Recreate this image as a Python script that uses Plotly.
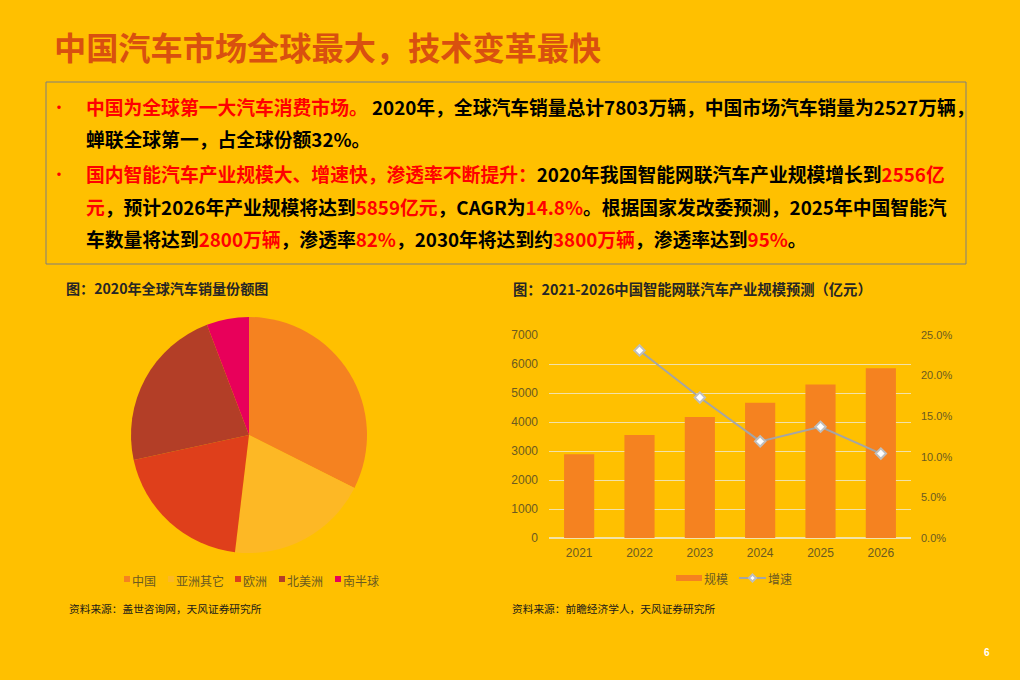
"""China auto market slide: share pie and smart-car market size combo chart."""
from plotly import graph_objects as go

WIDTH = 1020
HEIGHT = 680
BG = "#FFC000"
RED = "#FF0000"
GREY_TEXT = "#6B5A20"
LINE_GREY = "#A5A5A5"
MARKER_GREY = "#BEBEBE"
BAR_ORANGE = "#F58220"
CJK = "Noto Sans CJK SC"
SANS = "Liberation Sans, Noto Sans CJK SC"

TITLE = "中国汽车市场全球最大，技术变革最快"
PIE_TITLE = "图：2020年全球汽车销量份额图"
BAR_TITLE = "图：2021-2026中国智能网联汽车产业规模预测（亿元）"
PIE_SOURCE = "资料来源：盖世咨询网，天风证券研究所"
BAR_SOURCE = "资料来源：前瞻经济学人，天风证券研究所"

regions = ["中国", "亚洲其它", "欧洲", "北美洲", "南半球"]
region_share = [32.4, 19.5, 19.7, 22.6, 5.8]
region_colors = ["#F58220", "#FDB825", "#DF3F1B", "#B33E27", "#E8005A"]
region_legend_x = [124, 168, 235, 279, 335]

years = ["2021", "2022", "2023", "2024", "2025", "2026"]
market_size = [2890, 3550, 4170, 4660, 5290, 5850]
growth = [None, 0.231, 0.173, 0.119, 0.137, 0.104]

# (text, is_red) runs for each line of the text box
line_1 = [("中国为全球第一大汽车消费市场。", True),
          (" 2020年，全球汽车销量总计7803万辆，中国市场汽车销量为2527万辆，", False)]
line_2 = [("蝉联全球第一，占全球份额32%。", False)]
line_3 = [("国内智能汽车产业规模大、增速快，渗透率不断提升：", True),
          ("2020年我国智能网联汽车产业规模增长到", False), ("2556亿", True)]
line_4 = [("元", True), ("，预计2026年产业规模将达到", False), ("5859亿元", True),
          ("，CAGR为", False), ("14.8%", True), ("。根据国家发改委预测，2025年中国智能汽", False)]
line_5 = [("车数量将达到", False), ("2800万辆", True), ("，渗透率", False), ("82%", True),
          ("，2030年将达到约", False), ("3800万辆", True), ("，渗透率达到", False),
          ("95%", True), ("。", False)]


def px(x):
    return x / WIDTH


def py(y):
    return 1 - y / HEIGHT


def rich(runs):
    parts = []
    for text, is_red in runs:
        color = RED if is_red else "#000000"
        parts.append(f'<span style="color:{color}">{text}</span>')
    return "<b>" + "".join(parts) + "</b>"


def label(fig, x, y, text, size, color="#000000", family=CJK):
    # annotations carry a couple of pixels of padding on the left
    fig.add_annotation(
        x=px(x - 2), y=py(y), xref="paper", yref="paper", text=text,
        xanchor="left", yanchor="middle", showarrow=False,
        font=dict(size=size, color=color, family=family),
    )


def box(fig, x0, x1, y0, y1, color):
    fig.add_shape(
        type="rect", xref="paper", yref="paper",
        x0=px(x0), x1=px(x1), y0=py(y1), y1=py(y0),
        fillcolor=color, line=dict(width=0),
    )


fig = go.Figure()

fig.add_trace(go.Pie(
    labels=regions, values=region_share, sort=False, direction="clockwise", rotation=0,
    marker=dict(colors=region_colors, line=dict(width=0)), textinfo="none",
    hoverinfo="label+percent",
    domain=dict(x=[px(131), px(367)], y=[py(553), py(317)]),
    showlegend=False,
))
fig.add_trace(go.Bar(
    x=years, y=market_size, name="规模",
    marker=dict(color=BAR_ORANGE, line=dict(width=0)), width=0.5,
    showlegend=False,
))
fig.add_trace(go.Scatter(
    x=years, y=growth, name="增速", yaxis="y2", mode="lines+markers",
    line=dict(color=LINE_GREY, width=2),
    marker=dict(symbol="diamond", size=8, color="#FFFFFF", line=dict(color=MARKER_GREY, width=2)),
    showlegend=False,
))

fig.update_layout(
    width=WIDTH, height=HEIGHT, autosize=False,
    margin=dict(l=0, r=0, t=0, b=0, autoexpand=False),
    paper_bgcolor=BG, plot_bgcolor=BG,
    font=dict(family=SANS, size=12, color=GREY_TEXT),
    bargap=0.5,
    xaxis=dict(domain=[px(549), px(911)], showgrid=False, showline=False, ticks="",
               tickfont=dict(size=12, color=GREY_TEXT), type="category", ticklabelstandoff=6),
    yaxis=dict(range=[0, 7000], dtick=1000, gridcolor="#F2E2A8", gridwidth=1.2, zeroline=True,
               zerolinecolor="#F2E2A8", ticks="", tickfont=dict(size=12, color=GREY_TEXT),
               domain=[py(538), py(335)], ticklabelstandoff=10),
    yaxis2=dict(range=[0, 0.25], dtick=0.05, tickformat=".1%", overlaying="y", side="right",
                showgrid=False, zeroline=False, ticks="", tickfont=dict(size=11, color=GREY_TEXT),
                ticklabelstandoff=9),
)

fig.add_shape(
    type="rect", xref="paper", yref="paper",
    x0=px(46), x1=px(966), y0=py(264), y1=py(82),
    line=dict(color="#7F7F7F", width=1), fillcolor="rgba(0,0,0,0)",
)

label(fig, 54, 46, f"<b>{TITLE}</b>", 32.2, color="#D9500F")
for y, runs in zip([106, 139, 173, 206, 239], [line_1, line_2, line_3, line_4, line_5]):
    label(fig, 86, y, rich(runs), 18.8)
for y in [106, 173]:
    label(fig, 51, y, "•", 16, color=RED)
label(fig, 66, 288, f"<b>{PIE_TITLE}</b>", 14.1, color="#262626")
label(fig, 513, 288, f"<b>{BAR_TITLE}</b>", 14.3, color="#262626")
label(fig, 69, 608, PIE_SOURCE, 10.7, color="#1A1A1A")
label(fig, 512, 608, BAR_SOURCE, 10.7, color="#1A1A1A")
label(fig, 984, 652, "<b>6</b>", 10, color="#FFFFFF", family=SANS)

# pie legend
for name, color, x in zip(regions, region_colors, region_legend_x):
    box(fig, x, x + 6, 576, 582, color)
    label(fig, x + 8, 580, name, 12, color=GREY_TEXT)

# bar and line legend
box(fig, 676, 702, 575, 581, BAR_ORANGE)
label(fig, 704, 578, "规模", 12, color=GREY_TEXT)
fig.add_shape(type="line", xref="paper", yref="paper", x0=px(739), x1=px(766),
              y0=py(578), y1=py(578), line=dict(color=LINE_GREY, width=2))
fig.add_shape(
    type="path", xref="paper", yref="paper",
    path=f"M{px(749)},{py(578)} L{px(752.5)},{py(574.5)} L{px(756)},{py(578)} L{px(752.5)},{py(581.5)} Z",
    fillcolor="#FFFFFF", line=dict(color=MARKER_GREY, width=2),
)
label(fig, 768, 578, "增速", 12, color=GREY_TEXT)

fig.write_html("out.html", post_script="document.body.style.margin='0';",
               config=dict(displayModeBar=False))
